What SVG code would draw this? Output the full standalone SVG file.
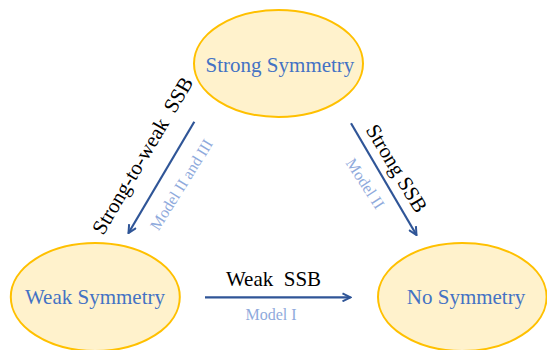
<svg xmlns="http://www.w3.org/2000/svg" width="547" height="350" viewBox="0 0 547 350">
<defs>
<style>
.node ellipse{fill:#FFF2CC;stroke:#FFC000;stroke-width:2}
.node text{font-family:"Liberation Serif","Times New Roman",serif;font-size:21px;fill:#4472C4;text-anchor:middle}
.conn line{stroke:#2F5597;stroke-width:2.2;fill:none}
.lbl{font-family:"Liberation Serif","Times New Roman",serif;font-size:21px;fill:#000;text-anchor:middle}
.model{font-family:"Liberation Serif","Times New Roman",serif;font-size:16px;fill:#8FAADC;text-anchor:middle}
</style>
<marker id="arr" viewBox="0 0 10 10" refX="9" refY="5" markerWidth="10" markerHeight="10" markerUnits="userSpaceOnUse" orient="auto">
<path d="M1,1 L9,5 L1,9" fill="none" stroke="#2F5597" stroke-width="2"/>
</marker>
</defs>
<rect width="547" height="350" fill="#fff"/>
<g id="strong" class="node">
<ellipse cx="278.5" cy="63.5" rx="84.5" ry="53.5"/>
<text x="280" y="72">Strong Symmetry</text>
</g>
<g id="weak" class="node">
<ellipse cx="95.3" cy="297" rx="84.5" ry="54"/>
<text x="95" y="304">Weak Symmetry</text>
</g>
<g id="none" class="node">
<ellipse cx="462.3" cy="297" rx="84.3" ry="54"/>
<text x="466" y="304">No Symmetry</text>
</g>
<g id="connectors" class="conn">
<line x1="194.3" y1="121.7" x2="128.5" y2="233" marker-end="url(#arr)"/>
<line x1="351" y1="123.3" x2="416.5" y2="235" marker-end="url(#arr)"/>
<line x1="205" y1="297.3" x2="350.5" y2="297.3" marker-end="url(#arr)"/>
</g>
<g id="labels">
<text class="lbl" transform="translate(148.5,159) rotate(-59.5)" xml:space="preserve">Strong-to-weak  SSB</text>
<text class="model" transform="translate(186,187.5) rotate(-58)">Model II and III</text>
<text class="lbl" transform="translate(390.7,171.9) rotate(59)">Strong SSB</text>
<text class="model" transform="translate(360.7,186.5) rotate(57)">Model II</text>
<text class="lbl" x="273.5" y="286" xml:space="preserve">Weak  SSB</text>
<text class="model" x="271" y="320">Model I</text>
</g>
</svg>
